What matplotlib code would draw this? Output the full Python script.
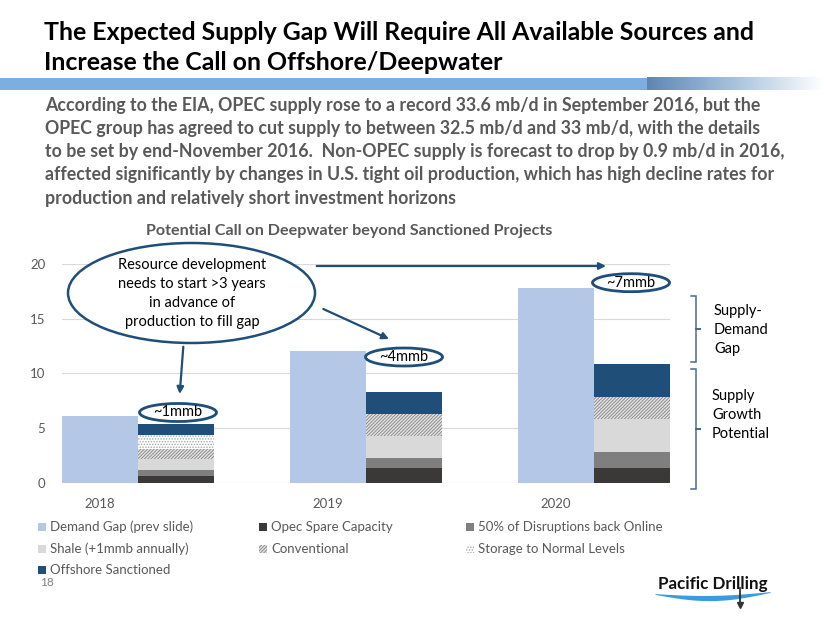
import numpy as np
import matplotlib.pyplot as plt
from matplotlib.patches import Ellipse, Rectangle
from matplotlib.colors import LinearSegmentedColormap

plt.rcParams['font.family'] = ['Lato', 'DejaVu Sans']
plt.rcParams['hatch.linewidth'] = 0.7

# chart data (mb/d)
years = ['2018', '2019', '2020']
demand_gap = [6.1, 12.0, 17.8]
opec_spare = [0.65, 1.3, 1.3]
disruptions = [0.5, 1.0, 1.5]
shale = [1.0, 2.0, 3.0]
conventional = [0.9, 2.0, 2.0]
storage = [1.35, 0.0, 0.0]
offshore = [1.0, 2.0, 3.1]

stack_series = [opec_spare, disruptions, shale, conventional, storage, offshore]
stack_labels = ['Opec Spare Capacity', '50% of Disruptions back Online',
                'Shale (+1mmb annually)', 'Conventional',
                'Storage to Normal Levels', 'Offshore Sanctioned']
stack_styles = [
    dict(color='#3B3838'),
    dict(color='#7F7F7F'),
    dict(color='#D9D9D9'),
    dict(facecolor='#E4E4E4', edgecolor='#8C8C8C', hatch='//////////'),
    dict(facecolor='white', edgecolor='#A6A6A6', hatch='......'),
    dict(color='#1F4E79'),
]
demand_color = '#B4C7E7'
dark_blue = '#1F4E79'
gray_txt = '#595959'

W, H = 824, 637
fig = plt.figure(figsize=(W / 100, H / 100), dpi=100)
renderer = fig.canvas.get_renderer()

# ---- bar chart ----
ax = fig.add_axes([62 / W, 1 - 482.7 / H, (670 - 62) / W, (482.7 - 264) / H])
x = np.arange(len(years))
w = 1 / 3
ax.bar(x - w / 2, demand_gap, w, color=demand_color, linewidth=0, zorder=2)
bottom = np.zeros(len(years))
for vals, st in zip(stack_series, stack_styles):
    ax.bar(x + w / 2, vals, w, bottom=bottom, linewidth=0, zorder=2, **st)
    bottom += np.array(vals)

ax.set_xlim(-1 / 3, 2 + 1 / 3)
ax.set_ylim(0, 20)
ax.set_yticks([0, 5, 10, 15, 20])
ax.set_xticks(x - w / 2)
ax.set_xticklabels(years)
ax.grid(axis='y', color='#D9D9D9', lw=0.8, zorder=0)
for s in ax.spines.values():
    s.set_visible(False)
ax.tick_params(length=0, labelsize=9.5, labelcolor=gray_txt)
ax.tick_params(axis='y', pad=12)
ax.tick_params(axis='x', pad=11)

# ---- overlay in pixel coordinates for slide decoration ----
ov = fig.add_axes([0, 0, 1, 1], zorder=5)
ov.axis('off')


def fit(t, width):
    wd = t.get_window_extent(renderer=renderer).width
    t.set_fontsize(t.get_fontsize() * width / wd)


# blue band under the title
ov.add_patch(Rectangle((0, 77.5), 647, 12.5, color='#7DAEE0', lw=0))
grad = np.linspace(0, 1, 200)[None, :]
ov.imshow(grad, extent=(647, W, 90, 77.5), aspect='auto',
          cmap=LinearSegmentedColormap.from_list('g', ['#5F86B3', '#A9C3DE', '#FFFFFF']))
ov.set_xlim(0, W)
ov.set_ylim(H, 0)

t1 = ov.text(44, 33, 'The Expected Supply Gap Will Require All Available Sources and',
             fontsize=16, fontweight='bold', va='center', color='black')
fit(t1, 757 - 44)
ov.text(44, 63, 'Increase the Call on Offshore/Deepwater',
        fontsize=t1.get_fontsize(), fontweight='bold', va='center', color='black')

para = ['According to the EIA, OPEC supply rose to a record 33.6 mb/d in September 2016, but the',
        'OPEC group has agreed to cut supply to between 32.5 mb/d and 33 mb/d, with the details',
        'to be set by end-November 2016.  Non-OPEC supply is forecast to drop by 0.9 mb/d in 2016,',
        'affected significantly by changes in U.S. tight oil production, which has high decline rates for',
        'production and relatively short investment horizons']
p0 = ov.text(45, 105, para[3], fontsize=11, fontweight='bold', va='center', color=gray_txt)
fit(p0, 770 - 45)
p0.set_visible(False)
for i, line in enumerate(para):
    ov.text(45, 105 + i * 23.3, line, fontsize=p0.get_fontsize(), fontweight='bold',
            va='center', color=gray_txt)

ct = ov.text(349, 231, 'Potential Call on Deepwater beyond Sanctioned Projects',
             fontsize=10.5, fontweight='bold', ha='center', va='center', color=gray_txt)
fit(ct, 408)

# big callout
ov.add_patch(Ellipse((191.5, 293), 247, 100, fc='white', ec=dark_blue, lw=1.8))
for i, line in enumerate(['Resource development', 'needs to start >3 years',
                          'in advance of', 'production to fill gap']):
    ov.text(192, 265 + i * 19, line, fontsize=10.5, ha='center', va='center', color='black')

arrow = dict(arrowstyle='-|>', color=dark_blue, lw=1.6, mutation_scale=10, shrinkA=0, shrinkB=0)
ov.annotate('', xy=(179.7, 394), xytext=(183.3, 346.7), arrowprops=arrow)
ov.annotate('', xy=(389, 339), xytext=(323.3, 309), arrowprops=arrow)
ov.annotate('', xy=(606, 266), xytext=(316.7, 266), arrowprops=arrow)

for (cx, cy, lab) in [(178, 412.5, '~1mmb'), (404, 357, '~4mmb'), (631, 282.7, '~7mmb')]:
    ov.add_patch(Ellipse((cx, cy), 77, 18, fc='white', ec=dark_blue, lw=2))
    ov.text(cx, cy, lab, fontsize=10.5, ha='center', va='center', color='black')


# braces on the right
def brace(y0, y1, xl=691.5, xv=696.5, xr=701):
    ym = (y0 + y1) / 2
    ov.plot([xl, xv, xv, xr, xv, xv, xl], [y0, y0, ym, ym, ym, y1, y1],
            color='#4A6A94', lw=1.1, solid_joinstyle='miter')


brace(296, 362)
brace(369, 489)
for i, line in enumerate(['Supply-', 'Demand', 'Gap']):
    ov.text(714, 311 + i * 19, line, fontsize=10.5, va='center', color='black')
for i, line in enumerate(['Supply', 'Growth', 'Potential']):
    ov.text(712, 396 + i * 19, line, fontsize=10.5, va='center', color='black')

# legend, drawn row by row in three columns
leg_labels = ['Demand Gap (prev slide)'] + stack_labels
leg_styles = [dict(color=demand_color)] + stack_styles
col_x = [38, 259, 466]
row_y = [527, 549, 570]
for i, (lab, st) in enumerate(zip(leg_labels, leg_styles)):
    lx = col_x[i % 3]
    ly = row_y[i // 3]
    ov.add_patch(Rectangle((lx, ly - 4), 8, 8, lw=0, **st))
    ov.text(lx + 12.5, ly, lab, fontsize=9.5, va='center', color=gray_txt)

ov.text(40, 582, '18', fontsize=8.5, va='center', color='#7F7F7F')

# logo
xx = np.linspace(655, 770, 60)
tt = (xx - 655) / 115
mid = 594 + 5 * np.sin(np.pi * tt) - 2 * tt
th = 0.4 + 2.2 * np.sin(np.pi * tt)
ov.fill_between(xx, mid - th, mid + th, color='#3C9BDC', lw=0)
lg = ov.text(658, 584, 'Pacific Drilling', fontsize=12, fontweight='bold',
             va='center', color='#111111')
fit(lg, 109)
ov.plot([740, 740], [588, 603], color='#222222', lw=1.2)
ov.plot([740], [605], marker='v', color='#333333', ms=4)

fig.savefig('out.png', dpi=100)
